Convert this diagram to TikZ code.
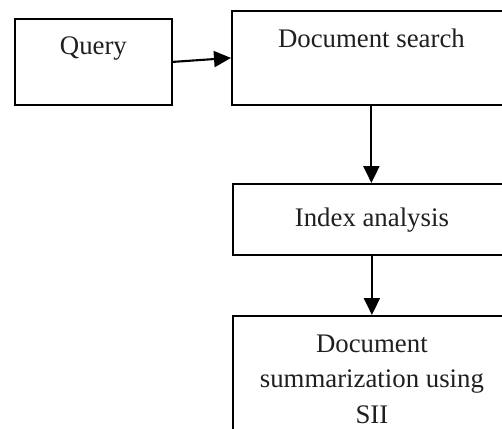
\documentclass[tikz,border=0pt]{standalone}
\usepackage{fontspec}
\setmainfont{Liberation Serif}
\usetikzlibrary{arrows.meta}
\begin{document}
\begin{tikzpicture}[x=1pt,y=-1pt,
  box/.style={draw, line width=1.8pt, inner sep=0pt, anchor=north west},
  txt/.style={inner sep=0pt, font=\fontsize{26.8}{35.5}\selectfont, align=center, text=black!88},
  arr/.style={line width=2.1pt, -{Triangle[width=16pt,length=17pt]}}]
\path[use as bounding box, clip] (0,0) rectangle (502,428);
\node[box, minimum width=157pt, minimum height=86pt] (q) at (14,18) {};
\node[box, minimum width=279pt, minimum height=94pt] (d) at (231,10) {};
\node[box, minimum width=278pt, minimum height=71pt] (i) at (232,183) {};
\node[box, minimum width=278pt, minimum height=130pt] (s) at (232,315) {};
\node[txt, anchor=base] (qt) at ([yshift=-36pt]q.north) {Query};
\node[txt, anchor=base] (dt) at ([yshift=-37pt]d.north) {Document search};
\node[txt, anchor=base] (it) at ([yshift=-43pt]i.north) {Index analysis};
\node[txt] (st) at ([yshift=-64pt]s.north) {Document\\summarization using\\SII};
\draw[arr] (q.east) -- (d.west);
\draw[arr] (d.south) -- (d.south |- i.north);
\draw[arr] (i.south) -- (s.north);
\end{tikzpicture}
\end{document}
